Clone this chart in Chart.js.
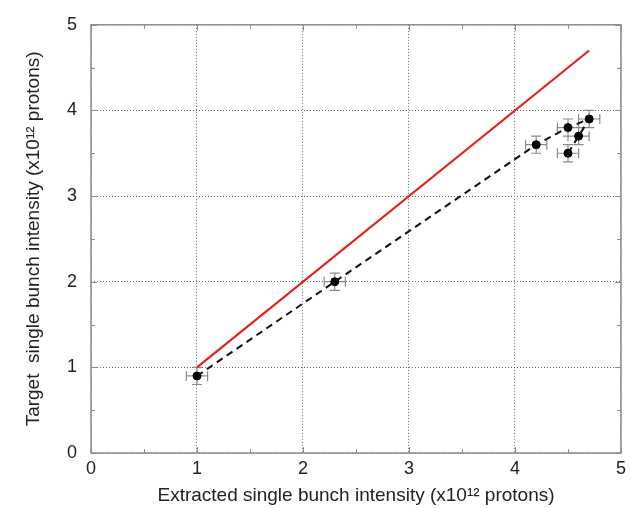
<!DOCTYPE html>
<html>
<head>
<meta charset="utf-8">
<script src="https://cdn.jsdelivr.net/npm/chart.js@4"></script>
<style>
  body { margin: 0; background: #fff; }
  #wrap { width: 631px; height: 508px; }
</style>
</head>
<body>
<div id="wrap"><canvas id="c" width="631" height="508"></canvas></div>
<script>
// measured points (x10^12 protons)
const extracted = [1.0, 2.3, 4.2, 4.5, 4.7, 4.6, 4.5];
const target    = [0.9, 2.0, 3.6, 3.8, 3.9, 3.7, 3.5];
const xErr = 0.1;
const yErr = 0.1;

// ideal line (100% transmission)
const idealX = [1.0, 4.7];
const idealY = [1.0, 4.7];

// dashed guide through the measurements
const fitX = [1.0, 2.3, 4.2, 4.5, 4.7];
const fitY = [0.9, 2.0, 3.6, 3.8, 3.9];
const fit2X = [4.5, 4.6, 4.7];
const fit2Y = [3.5, 3.7, 3.9];

const axisTicks = [0, 1, 2, 3, 4, 5];
const minorTicks = [0.5, 1.5, 2.5, 3.5, 4.5];

const pts = (xs, ys) => xs.map((x, i) => ({ x: x, y: ys[i] }));

// frame, minor ticks and error bars
const decorPlugin = {
    id: 'decor',
    beforeDatasetsDraw(chart) {
        const { ctx, chartArea: a, scales } = chart;
        const sx = scales.x, sy = scales.y;
        ctx.save();
        ctx.strokeStyle = '#8c8c8c';
        ctx.lineWidth = 1;
        // ticks on all four sides
        ctx.beginPath();
        axisTicks.concat(minorTicks).forEach(v => {
            const len = minorTicks.includes(v) ? 4 : 6;
            const px = Math.round(sx.getPixelForValue(v)) + 0.5;
            const py = Math.round(sy.getPixelForValue(v)) + 0.5;
            ctx.moveTo(px, a.bottom); ctx.lineTo(px, a.bottom - len);
            ctx.moveTo(px, a.top); ctx.lineTo(px, a.top + len);
            ctx.moveTo(a.left, py); ctx.lineTo(a.left + len, py);
            ctx.moveTo(a.right, py); ctx.lineTo(a.right - len, py);
        });
        ctx.stroke();
        // error bars
        ctx.strokeStyle = '#8a8a8a';
        ctx.lineWidth = 1.2;
        ctx.beginPath();
        extracted.forEach((x, i) => {
            const y = target[i];
            const cx = sx.getPixelForValue(x), cy = sy.getPixelForValue(y);
            const x0 = sx.getPixelForValue(x - xErr), x1 = sx.getPixelForValue(x + xErr);
            const y0 = sy.getPixelForValue(y - yErr), y1 = sy.getPixelForValue(y + yErr);
            ctx.moveTo(x0, cy); ctx.lineTo(x1, cy);
            ctx.moveTo(x0, cy - 5); ctx.lineTo(x0, cy + 5);
            ctx.moveTo(x1, cy - 5); ctx.lineTo(x1, cy + 5);
            ctx.moveTo(cx, y0); ctx.lineTo(cx, y1);
            ctx.moveTo(cx - 5, y0); ctx.lineTo(cx + 5, y0);
            ctx.moveTo(cx - 5, y1); ctx.lineTo(cx + 5, y1);
        });
        ctx.stroke();
        ctx.restore();
    },
    afterDraw(chart) {
        const { ctx, chartArea: a } = chart;
        ctx.save();
        ctx.strokeStyle = '#8c8c8c';
        ctx.lineWidth = 1.5;
        ctx.strokeRect(a.left, a.top, a.right - a.left, a.bottom - a.top);
        ctx.restore();
    }
};

Chart.defaults.font.family = '"Liberation Sans", Arial, sans-serif';
Chart.defaults.color = '#222';

new Chart(document.getElementById('c'), {
    type: 'scatter',
    data: {
        datasets: [
            {
                label: 'ideal',
                data: pts(idealX, idealY),
                showLine: true,
                borderColor: '#e2231a',
                borderWidth: 2.2,
                pointRadius: 0
            },
            {
                label: 'fit',
                data: pts(fitX, fitY),
                showLine: true,
                borderColor: '#111',
                borderWidth: 2,
                borderDash: [7, 5],
                pointRadius: 0
            },
            {
                label: 'fit2',
                data: pts(fit2X, fit2Y),
                showLine: true,
                borderColor: '#111',
                borderWidth: 2,
                borderDash: [7, 5],
                pointRadius: 0
            },
            {
                label: 'measured',
                data: pts(extracted, target),
                backgroundColor: '#000',
                borderColor: '#000',
                pointRadius: 4,
                pointHoverRadius: 4
            }
        ]
    },
    options: {
        responsive: false,
        animation: false,
        layout: { padding: { top: 12, right: 7, left: 0, bottom: 0 } },
        plugins: { legend: { display: false }, tooltip: { enabled: false } },
        scales: {
            x: {
                type: 'linear',
                min: 0, max: 5,
                afterBuildTicks: s => { s.ticks = axisTicks.map(v => ({ value: v })); },
                afterFit: s => { s.height = 55; },
                grid: { color: '#666', drawTicks: false, lineWidth: 1 },
                border: { display: false, dash: [1, 2] },
                ticks: { font: { size: 18 }, padding: 5, maxRotation: 0 },
                title: {
                    display: true,
                    text: 'Extracted single bunch intensity (x10¹² protons)',
                    font: { size: 19 },
                    padding: { top: 0, bottom: 1 }
                }
            },
            y: {
                type: 'linear',
                min: 0, max: 5,
                afterBuildTicks: s => { s.ticks = axisTicks.map(v => ({ value: v })); },
                afterFit: s => { s.width = 91; },
                grid: { color: '#666', drawTicks: false, lineWidth: 1 },
                border: { display: false, dash: [1, 2] },
                ticks: { font: { size: 18 }, padding: 14 },
                title: {
                    display: true,
                    text: 'Target  single bunch intensity (x10¹² protons)',
                    font: { size: 19 },
                    padding: { top: 22, bottom: 0 }
                }
            }
        }
    },
    plugins: [decorPlugin]
});
</script>
</body>
</html>
